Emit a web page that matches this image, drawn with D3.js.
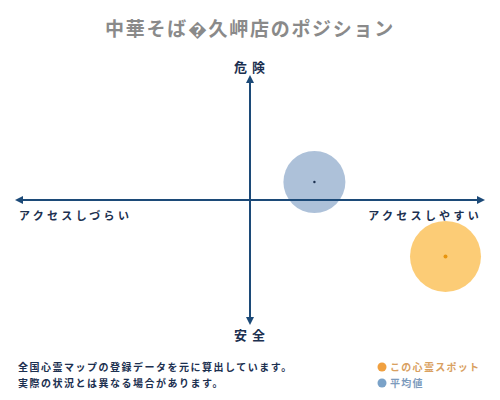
<!DOCTYPE html>
<html><head><meta charset="utf-8">
<script src="https://cdn.jsdelivr.net/npm/d3@7"></script>
<style>
html,body{margin:0;padding:0;background:#fff;}
svg{display:block;font-family:"Noto Sans CJK JP","Noto Sans",sans-serif;}
</style></head>
<body>
<svg id="c" width="500" height="400"></svg>
<script>
const title = "中華そば\uFFFD久岬店のポジション";
const axisLabels = ["危険", "安全", "アクセスしづらい", "アクセスしやすい"];
const seriesNames = ["この心霊スポット", "平均値"];
const seriesX = [0.85, 0.28];     // access (+ = easy)
const seriesY = [-0.47, 0.15];    // danger (+ = dangerous)
const seriesR = [35.5, 31];
const notes = ["全国心霊マップの登録データを元に算出しています。", "実際の状況とは異なる場合があります。"];

const svg = d3.select("#c");
const navy = "#1c4a78";
const x = d3.scaleLinear().domain([-1, 1]).range([20, 480]);
const y = d3.scaleLinear().domain([-1, 1]).range([320, 80]);

const defs = svg.append("defs");
defs.append("marker").attr("id","arr").attr("viewBox","0 0 10 10").attr("refX",5).attr("refY",5)
  .attr("markerWidth",4).attr("markerHeight",4).attr("orient","auto-start-reverse")
  .append("path").attr("d","M0,0L10,5L0,10z").attr("fill",navy);

svg.append("text").attr("x",250).attr("y",36).attr("text-anchor","middle")
  .attr("font-size",19).attr("font-weight",700).attr("fill","#8a8a8a").attr("letter-spacing",1.7)
  .text(title);

const pts = seriesNames.map((n,i)=>({n, x:seriesX[i], y:seriesY[i], r:seriesR[i]}));
const fills = ["#fcc35e", "#9fb6d2"];
const dots = ["#e8950f", "#1c3050"];
[1,0].forEach(i=>{
  svg.append("circle").attr("cx",x(pts[i].x)).attr("cy",y(pts[i].y)).attr("r",pts[i].r)
    .attr("fill",fills[i]).attr("opacity",0.85);
});

svg.append("line").attr("x1",x(0)).attr("x2",x(0)).attr("y1",y(-1)+1).attr("y2",y(1)-1)
  .attr("stroke",navy).attr("stroke-width",2).attr("marker-start","url(#arr)").attr("marker-end","url(#arr)");
svg.append("line").attr("x1",x(-1)-1).attr("x2",x(1)+1).attr("y1",y(0)).attr("y2",y(0))
  .attr("stroke",navy).attr("stroke-width",2).attr("marker-start","url(#arr)").attr("marker-end","url(#arr)");

[1,0].forEach(i=>{
  svg.append("circle").attr("cx",x(pts[i].x)).attr("cy",y(pts[i].y)).attr("r",i===0?2:1.2)
    .attr("fill",dots[i]);
});

const lab = (t,xx,yy,anchor,fs,ls)=>svg.append("text").attr("x",xx).attr("y",yy).attr("text-anchor",anchor)
  .attr("font-size",fs).attr("font-weight",700).attr("fill","#1c3050").attr("letter-spacing",ls).text(t);
lab(axisLabels[0],252,72,"middle",13,5);
lab(axisLabels[1],252,340,"middle",13,5);
lab(axisLabels[2],19,220,"start",11,3.3);
lab(axisLabels[3],482,220,"end",11,3.3);

notes.forEach((t,i)=>{
  svg.append("text").attr("x",18).attr("y",371+i*16).attr("font-size",10).attr("font-weight",700)
    .attr("fill","#1c3050").attr("letter-spacing",1.5).text(t);
});

const legC = ["#f0a040", "#7aa2c8"];
const legT = ["#d9a060", "#7d9bbd"];
seriesNames.forEach((n,i)=>{
  svg.append("circle").attr("cx",382).attr("cy",367+i*16).attr("r",4.5).attr("fill",legC[i]);
  svg.append("text").attr("x",390).attr("y",371+i*16).attr("font-size",10).attr("font-weight",700)
    .attr("fill",legT[i]).attr("letter-spacing",1.3).text(n);
});
</script>
</body></html>
